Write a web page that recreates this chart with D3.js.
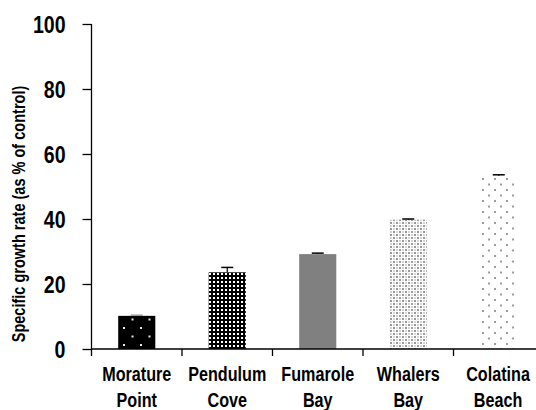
<!DOCTYPE html>
<html><head><meta charset="utf-8">
<script src="https://cdn.jsdelivr.net/npm/d3@7"></script>
<style>
html,body{margin:0;padding:0;background:#fff;}
svg{display:block;}
text{font-family:"Liberation Sans",Arial,sans-serif;font-weight:bold;fill:#000;}
</style></head>
<body>
<svg id="chart" width="536" height="410"></svg>
<script>
const categories = [["Morature","Point"],["Pendulum","Cove"],["Fumarole","Bay"],["Whalers","Bay"],["Colatina","Beach"]];
const values = [10.2, 23.6, 29.2, 39.8, 53.3];
const errors = [0.2, 1.5, 0.3, 0.2, 0.3];
const yTicks = [0, 20, 40, 60, 80, 100];
const yTitle = "Specific growth rate (as % of control)";

const W = 536, H = 410;
const NARROW = 0.83;
const svg = d3.select("#chart");
const defs = svg.append("defs");

function pat(id, w, h, bg, dots, color, size){
  const p = defs.append("pattern").attr("id", id).attr("patternUnits","userSpaceOnUse")
    .attr("width", w).attr("height", h);
  p.append("rect").attr("width", w).attr("height", h).attr("fill", bg);
  dots.forEach(d => p.append("rect").attr("x", d[0]).attr("y", d[1])
    .attr("width", d[2]||size).attr("height", d[3]||size).attr("fill", d[4]||color));
  return "url(#" + id + ")";
}
const fills = [
  pat("p0", 17, 17, "#000", [[4,4],[12.5,12.5]], "#e8e8e8", 2),
  pat("p1", 4, 4, "#000", [[1,1]], "#fff", 2),
  "#808080",
  pat("p3", 6, 6, "#fff", [[0,0,2,2,"#9a9a9a"],[3,3,2,2,"#9a9a9a"],[3,0,2,2,"#d4d4d4"],[0,3,2,2,"#d4d4d4"]], "#999", 2),
  pat("p4", 12, 11, "#fff", [[2,2],[8,7.5]], "#9d9d9d", 2)
];

const x = d3.scaleBand().domain(d3.range(categories.length)).range([91.5, 544]).padding(0);
const y = d3.scaleLinear().domain([0, 100]).range([349, 24]);
const barW = x.bandwidth() * 0.41;

svg.append("g").selectAll("rect").data(values).join("rect")
  .attr("x", (d,i) => x(i) + x.bandwidth()/2 - barW/2)
  .attr("y", d => y(d))
  .attr("width", barW)
  .attr("height", d => y(0) - y(d))
  .attr("fill", (d,i) => fills[i]);

const eg = svg.append("g");
values.forEach((v,i) => {
  const cx = x(i) + x.bandwidth()/2;
  const col = i === 0 ? "#9a9a9a" : "#000";
  eg.append("line").attr("x1", cx).attr("x2", cx).attr("y1", y(v)).attr("y2", y(v + errors[i]))
    .attr("stroke", col).attr("stroke-width", 1.2);
  eg.append("line").attr("x1", cx - 6).attr("x2", cx + 6).attr("y1", y(v + errors[i])).attr("y2", y(v + errors[i]))
    .attr("stroke", col).attr("stroke-width", 1.5);
});

// y axis
const yAxis = d3.axisLeft(y).tickValues(yTicks).tickSize(9).tickPadding(16);
const yg = svg.append("g").attr("transform", "translate(91.5,0)").call(yAxis);
yg.select(".domain").attr("stroke", "#000").attr("stroke-width", 1.3).attr("d", "M0," + y(100) + "V" + y(0));
yg.selectAll(".tick line").attr("stroke", "#000").attr("stroke-width", 1.3);
yg.selectAll(".tick text").style("font-size", "23px").attr("dy", "0.36em")
  .attr("x", 0).attr("transform", "translate(-26,0) scale(0.85,1)");

// x axis
const xg = svg.append("g").attr("transform", "translate(0," + y(0) + ")");
xg.append("line").attr("x1", 91.5).attr("x2", W).attr("y1", 0).attr("y2", 0)
  .attr("stroke", "#000").attr("stroke-width", 1.3);
xg.selectAll("line.tk").data(d3.range(categories.length)).join("line").attr("class","tk")
  .attr("x1", i => x(i)).attr("x2", i => x(i)).attr("y1", 0).attr("y2", 7)
  .attr("stroke", "#000").attr("stroke-width", 1.3);
const labels = xg.selectAll("text").data(categories).join("text")
  .attr("text-anchor", "middle")
  .style("font-size", "19.5px");
labels.each(function(d, i){
  const t = d3.select(this);
  const a = t.append("tspan").attr("x", 0).attr("y", 32).text(d[0]);
  const b = t.append("tspan").attr("x", 0).attr("y", 58).text(d[1]);
  const bw = Math.max(a.node().getComputedTextLength(), b.node().getComputedTextLength()) * NARROW;
  const cx = Math.min(x(i) + x.bandwidth()/2, W - bw/2 - 6);
  t.attr("transform", "translate(" + cx + ",0) scale(" + NARROW + ",1)");
});

// y title
svg.append("text").attr("transform", "translate(25,214) rotate(-90) scale(" + NARROW + ",1)")
  .attr("text-anchor", "middle").style("font-size", "17.5px").text(yTitle);
</script>
</body></html>
